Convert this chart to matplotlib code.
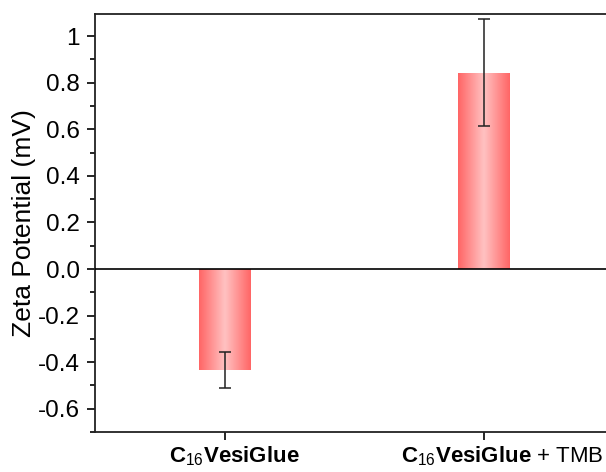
import matplotlib

matplotlib.use("Agg")
import matplotlib.pyplot as plt
import numpy as np
from matplotlib.colors import LinearSegmentedColormap
from matplotlib.ticker import FixedLocator, FixedFormatter, MultipleLocator
from matplotlib.transforms import ScaledTranslation

plt.rcParams["font.family"] = ["Liberation Sans", "DejaVu Sans"]
plt.rcParams["mathtext.fontset"] = "custom"
plt.rcParams["mathtext.rm"] = "Liberation Sans"
plt.rcParams["mathtext.bf"] = "Liberation Sans:bold"

# zeta potential of the vesicle glue with and without TMB
categories = [r"$\mathbf{C}_{\mathrm{16}}\mathbf{VesiGlue}$",
              r"$\mathbf{C}_{\mathrm{16}}\mathbf{VesiGlue}$ + TMB"]
zeta_mv = [-0.433, 0.842]
zeta_err = [0.077, 0.23]
ytick_values = [-0.6, -0.4, -0.2, 0.0, 0.2, 0.4, 0.6, 0.8, 1.0]
ytick_labels = ["-0.6", "-0.4", "-0.2", "0.0", "0.2", "0.4", "0.6", "0.8", "1"]

fig = plt.figure(figsize=(6.06, 4.72), dpi=100)
# the right edge of the frame runs past the figure edge
ax = fig.add_axes([0.1568, 0.0847, 0.8564, 0.8856])

xpos = np.arange(1, len(categories) + 1)
bars = ax.bar(xpos, zeta_mv, width=0.2, color="none", edgecolor="none", zorder=2)

# horizontal red -> pink -> red shading inside each bar
shade = LinearSegmentedColormap.from_list(
    "bar_shade", ["#ff6565", "#ffc2c2", "#ff6565"])
grad = np.linspace(0, 1, 256).reshape(1, -1)
for b in bars:
    x0, y0 = b.get_x(), b.get_y()
    w, h = b.get_width(), b.get_height()
    im = ax.imshow(grad, cmap=shade, aspect="auto", interpolation="bicubic",
                   extent=[x0, x0 + w, min(y0, y0 + h), max(y0, y0 + h)],
                   zorder=2)
    im.set_clip_path(b)

ax.errorbar(xpos, zeta_mv, yerr=zeta_err, fmt="none", ecolor="#222222",
            elinewidth=1.1, capsize=4, capthick=1.1, zorder=3)

ax.axhline(0, color="black", lw=1.2, zorder=3)

ax.set_xlim(0.5, 2.5)
ax.set_ylim(-0.7, 1.095)

ax.set_xticks(xpos)
ax.set_xticklabels(categories, fontsize=16)
ax.yaxis.set_major_locator(FixedLocator(ytick_values))
ax.yaxis.set_major_formatter(FixedFormatter(ytick_labels))
ax.yaxis.set_minor_locator(MultipleLocator(0.1))
ax.tick_params(axis="y", which="major", labelsize=17.5, length=6, width=1.2,
               direction="out", pad=5)
ax.tick_params(axis="y", which="minor", length=3.5, width=1.2, direction="out")
ax.tick_params(axis="x", which="major", length=6, width=1.2, direction="out",
               pad=3)
ax.set_ylabel("Zeta Potential (mV)", fontsize=19, labelpad=1)

# category labels sit a little right of their ticks
for lbl, dx in zip(ax.get_xticklabels(), [10, 18]):
    lbl.set_transform(lbl.get_transform()
                      + ScaledTranslation(dx / 100, 0, fig.dpi_scale_trans))

for side in ax.spines.values():
    side.set_linewidth(1.3)
    side.set_color("#222222")

fig.savefig("out.png", dpi=100)
